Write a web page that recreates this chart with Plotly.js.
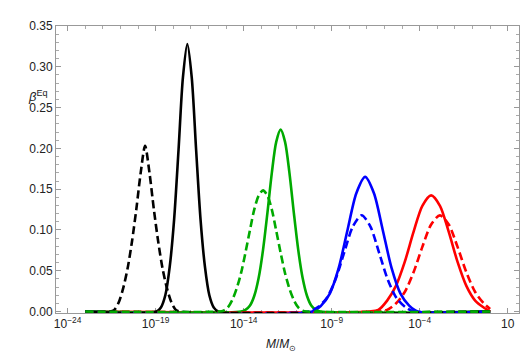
<!DOCTYPE html>
<html>
<head>
<meta charset="utf-8">
<script src="https://cdn.plot.ly/plotly-3.0.1.min.js"></script>
<style>
  html, body { margin: 0; padding: 0; background: #fff; }
  #chart { width: 528px; height: 359px; }
</style>
</head>
<body>
<div id="chart"></div>
<script>
'use strict'

// log10(M/Msun) sample points and beta^Eq values
var blackDashLog = [-23, -21.6, -21.35, -21.1, -20.85, -20.6, -20.35, -20.1, -19.85, -19.6, -19.35, -19.1, -18.85, -18.6, -18.35, -18.1, -17.85, -17.6, 0];
var blackDashVal = [0, 0, 0.002, 0.011, 0.028, 0.052, 0.085, 0.125, 0.170, 0.203, 0.170, 0.125, 0.085, 0.052, 0.028, 0.011, 0.002, 0, 0];

var blackSolidLog = [-23, -18.95, -18.7, -18.45, -18.2, -17.95, -17.7, -17.45, -17.2, -16.95, -16.7, -16.45, -16.2, -15.95, -15.7, -15.45, 0];
var blackSolidVal = [0, 0, 0.005, 0.020, 0.055, 0.113, 0.198, 0.287, 0.328, 0.287, 0.198, 0.113, 0.055, 0.020, 0.005, 0, 0];

var greenDashLog = [-23, -15.4, -15.15, -14.9, -14.65, -14.4, -14.15, -13.9, -13.65, -13.4, -13.15, -12.9, -12.65, -12.4, -12.15, -11.9, -11.65, -11.4, -11.15, -10.9, -10.65, -10.4, 0];
var greenDashVal = [0, 0, 0.001, 0.005, 0.014, 0.028, 0.047, 0.072, 0.099, 0.125, 0.142, 0.1485, 0.142, 0.125, 0.099, 0.072, 0.047, 0.028, 0.014, 0.005, 0.001, 0, 0];

var greenSolidLog = [-23, -14.15, -13.9, -13.65, -13.4, -13.15, -12.9, -12.65, -12.4, -12.15, -11.9, -11.65, -11.4, -11.15, -10.9, -10.65, -10.4, -10.15, -9.9, -9.65, 0];
var greenSolidVal = [0, 0, 0.002, 0.007, 0.019, 0.041, 0.0755, 0.121, 0.170, 0.208, 0.223, 0.208, 0.170, 0.121, 0.0755, 0.041, 0.019, 0.007, 0.002, 0, 0];

var blueSolidLog = [-23, -10.1, -9.6, -9.1, -8.6, -8.1, -7.6, -7.1, -6.6, -6.1, -5.6, -5.1, -4.6, -4.1, 0];
var blueSolidVal = [0, 0, 0.0072, 0.0223, 0.0535, 0.100, 0.145, 0.165, 0.145, 0.100, 0.0535, 0.0223, 0.0072, 0, 0];

var blueDashLog = [-23, -10.3, -9.8, -9.3, -8.8, -8.3, -7.8, -7.3, -6.8, -6.3, -5.8, -5.3, -4.8, -4.3, 0];
var blueDashVal = [0, 0, 0.0052, 0.016, 0.0383, 0.0716, 0.104, 0.118, 0.104, 0.0716, 0.0383, 0.016, 0.0052, 0, 0];

var redSolidLog = [-23, -6.85, -6.35, -5.85, -5.35, -4.85, -4.35, -3.85, -3.35, -2.85, -2.35, -1.85, -1.35, -0.85, -0.35, 0];
var redSolidVal = [0, 0, 0.002, 0.0134, 0.0314, 0.0608, 0.0976, 0.1296, 0.1424, 0.1296, 0.0976, 0.0608, 0.0314, 0.0134, 0.0047, 0];

var redDashLog = [-23, -6.35, -5.85, -5.35, -4.85, -4.35, -3.85, -3.35, -2.85, -2.35, -1.85, -1.35, -0.85, -0.35, 0];
var redDashVal = [0, 0, 0.002, 0.0098, 0.0239, 0.0481, 0.0792, 0.1067, 0.1179, 0.1067, 0.0792, 0.0481, 0.0239, 0.0098, 0.003];

var xMajorExp = [-24, -19, -14, -9, -4, 1];
var xMajorText = ['10<sup>\u221224</sup>', '10<sup>\u221219</sup>', '10<sup>\u221214</sup>', '10<sup>\u22129</sup>', '10<sup>\u22124</sup>', '10'];
var yTickVals = [0, 0.05, 0.10, 0.15, 0.20, 0.25, 0.30, 0.35];
var yTickText = ['0.00', '0.05', '0.10', '0.15', '0.20', '0.25', '0.30', '0.35'];

var GREEN = '#00aa00';

function pow10(arr){
    return arr.map(function(e){ return Math.pow(10, e); });
}

function curve(logs, vals, color, dashed){
    return {
        x: pow10(logs),
        y: vals,
        mode: 'lines',
        type: 'scatter',
        line: { color: color, width: 2.6, shape: 'spline', smoothing: 0.8, dash: dashed ? '8px,4px' : 'solid' },
        hoverinfo: 'skip',
        showlegend: false
    };
}

var data = [
    curve(redSolidLog, redSolidVal, '#ff0000', false),
    curve(blueSolidLog, blueSolidVal, '#0000ff', false),
    curve(greenSolidLog, greenSolidVal, GREEN, false),
    curve(blackSolidLog, blackSolidVal, '#000000', false),
    curve(redDashLog, redDashVal, '#ff0000', true),
    curve(blueDashLog, blueDashVal, '#0000ff', true),
    curve(blackDashLog, blackDashVal, '#000000', true),
    curve(greenDashLog, greenDashVal, GREEN, true)
];

var minorExp = [];
for (var e = -24; e <= 1; e++) minorExp.push(Math.pow(10, e));

var layout = {
    width: 528,
    height: 359,
    margin: { l: 56, r: 9, t: 26, b: 46, pad: 0 },
    paper_bgcolor: '#ffffff',
    plot_bgcolor: '#ffffff',
    font: { family: 'Liberation Sans, Arial, sans-serif', size: 12, color: '#222' },
    xaxis: {
        type: 'log',
        range: [-24.66, 1.64],
        tickmode: 'array',
        tickvals: pow10(xMajorExp),
        ticktext: xMajorText,
        ticks: 'inside',
        ticklen: 5,
        tickcolor: '#999',
        showline: true,
        linecolor: '#999',
        linewidth: 1,
        mirror: 'ticks',
        showgrid: false,
        zeroline: false,
        layer: 'below traces',
        minor: { tickmode: 'array', tickvals: minorExp, ticks: 'inside', ticklen: 3, tickcolor: '#aaa', showgrid: false }
    },
    yaxis: {
        range: [-0.0018, 0.35],
        tickmode: 'array',
        tickvals: yTickVals,
        ticktext: yTickText,
        ticks: 'inside',
        ticklen: 5,
        tickcolor: '#999',
        showline: true,
        linecolor: '#999',
        linewidth: 1,
        mirror: 'ticks',
        showgrid: false,
        zeroline: false,
        layer: 'below traces',
        minor: { dtick: 0.01, ticks: 'inside', ticklen: 3, tickcolor: '#aaa', showgrid: false }
    },
    annotations: [
        {
            text: '<i>\u03b2</i><sup>Eq</sup>',
            xref: 'paper', yref: 'paper',
            x: -0.012, y: 0.755,
            xanchor: 'right', yanchor: 'middle',
            showarrow: false,
            font: { size: 13, color: '#222' }
        },
        {
            text: '<i>M</i>/<i>M</i><sub>\u2299</sub>',
            xref: 'paper', yref: 'paper',
            x: 0.487, y: -0.112,
            xanchor: 'center', yanchor: 'middle',
            showarrow: false,
            font: { size: 12, color: '#222' }
        }
    ]
};

Plotly.newPlot('chart', data, layout, { displayModeBar: false, staticPlot: true });
</script>
</body>
</html>
